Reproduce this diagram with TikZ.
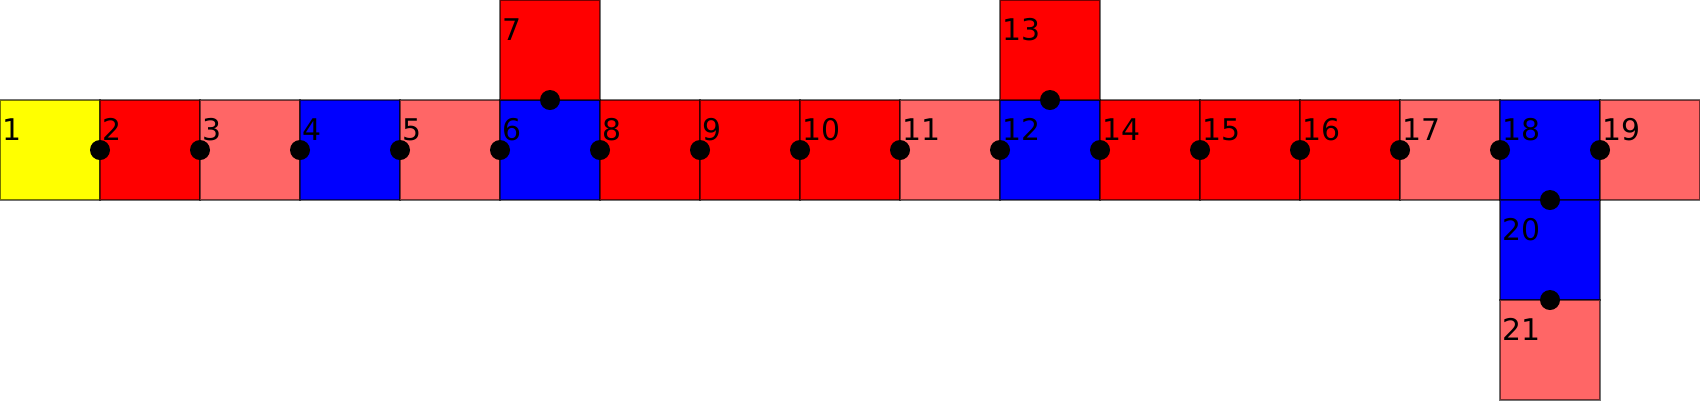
\documentclass[tikz,border=0pt]{standalone}
\usepackage{fontspec}
\setmainfont{DejaVu Sans}
\definecolor{cyel}{HTML}{FFFF00}
\definecolor{cred}{HTML}{FF0000}
\definecolor{clight}{HTML}{FF6666}
\definecolor{cblue}{HTML}{0000FF}
\begin{document}
\begin{tikzpicture}[
  sq/.style={rectangle, minimum width=1cm, minimum height=1cm, inner sep=0pt, outer sep=0pt,
    draw=black, draw opacity=0.55, line width=0.4pt},
  lbl/.style={anchor=base west, inner sep=0pt, font=\fontsize{8.5pt}{10pt}\selectfont},
  dot/.style={circle, fill=black, minimum size=0.2cm, inner sep=0pt}
]
\useasboundingbox (0,0) rectangle (17,4);
% main row
\foreach \n/\c/\i in {1/cyel/0, 2/cred/1, 3/clight/2, 4/cblue/3, 5/clight/4, 6/cblue/5,
  8/cred/6, 9/cred/7, 10/cred/8, 11/clight/9, 12/cblue/10, 14/cred/11, 15/cred/12,
  16/cred/13, 17/clight/14, 18/cblue/15, 19/clight/16}{
  \node[sq, fill=\c] (s\n) at (\i+0.5,2.5) {};
}
\node[sq, fill=cred] (s7) at (5.5,3.5) {};
\node[sq, fill=cred] (s13) at (10.5,3.5) {};
\node[sq, fill=cblue] (s20) at (15.5,1.5) {};
\node[sq, fill=clight] (s21) at (15.5,0.5) {};
% labels
\foreach \n in {1,...,21}{
  \node[lbl] (l\n) at ([shift={(0.02,-0.40)}]s\n.north west) {\n};
}
% dots
\foreach \a/\b in {1/2, 2/3, 3/4, 4/5, 5/6, 6/8, 8/9, 9/10, 10/11, 11/12, 12/14,
  14/15, 15/16, 16/17, 17/18, 18/19}{
  \node[dot] (d\a-\b) at (s\a.east) {};
}
\node[dot] (d6-7) at (s6.north) {};
\node[dot] (d12-13) at (s12.north) {};
\node[dot] (d18-20) at (s18.south) {};
\node[dot] (d20-21) at (s20.south) {};
\end{tikzpicture}
\end{document}
